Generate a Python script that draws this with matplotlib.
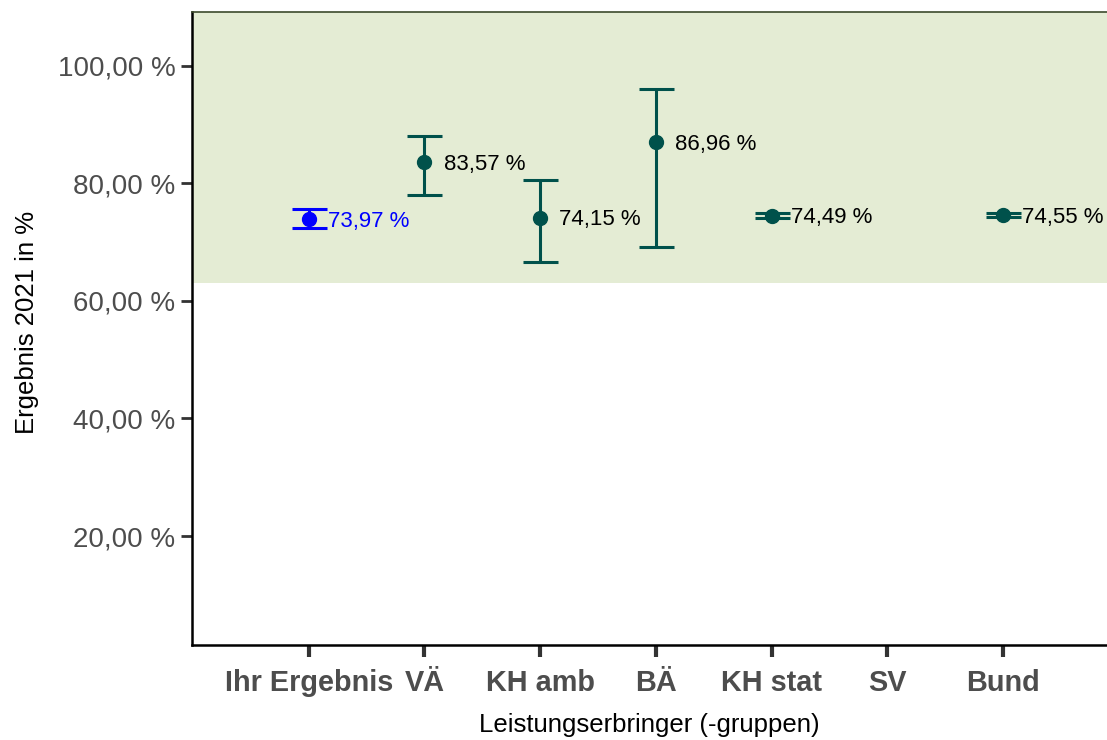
import numpy as np
import matplotlib
matplotlib.use('Agg')
from matplotlib import pyplot as plt

# Werte
categories = ['Ihr Ergebnis', 'VÄ', 'KH amb', 'BÄ', 'KH stat', 'SV', 'Bund']
values = [73.97, 83.57, 74.15, 86.96, 74.49, np.nan, 74.55]
lower = [72.35, 77.96, 66.67, 69.17, 74.03, np.nan, 74.20]
upper = [75.58, 88.04, 80.56, 95.99, 74.95, np.nan, 74.90]
band_low = 63.0
yticks = [20, 40, 60, 80, 100]

teal = '#00514B'
blue = '#0000FF'
band = '#E4ECD4'
grey = '#4D4D4D'

plt.rcParams['font.family'] = ['Liberation Sans', 'DejaVu Sans']

fig = plt.figure(figsize=(11.07, 7.40), dpi=100)
ax = fig.add_axes([0.1734, 0.1284, 0.8266, 0.8554])

x = np.arange(len(categories))
ax.set_xlim(-1.01, 6.9)
ax.set_ylim(1.5, 109.1)

ax.axhspan(band_low, 120, color=band, lw=0, zorder=0)

for i, cat in enumerate(categories):
    if np.isnan(values[i]):
        continue
    col = blue if i == 0 else teal
    yerr = [[values[i] - lower[i]], [upper[i] - values[i]]]
    ax.errorbar(x[i], values[i], yerr=yerr, fmt='o', color=col, ecolor=col,
                markersize=10, elinewidth=2.2, capsize=12.6, capthick=2.2,
                zorder=3)
    label = f'{values[i]:.2f} %'.replace('.', ',')
    ax.text(x[i] + 0.165, values[i] - 0.4, label, fontsize=16,
            color=blue if i == 0 else 'black', ha='left', va='center',
            zorder=4)

ax.set_xticks(x)
ax.set_xticklabels(categories, fontsize=20.8, fontweight='bold', color=grey)
ax.set_yticks(yticks)
ax.set_yticklabels([f'{v:.2f} %'.replace('.', ',') for v in yticks],
                   fontsize=20, color=grey)
ax.tick_params(axis='x', length=8.6, width=3, color='#333333', pad=9)
ax.tick_params(axis='y', length=8, width=2, color='#333333', pad=4)

ax.spines['right'].set_visible(False)
ax.spines['top'].set_color('#3C4A2C')
ax.spines['top'].set_linewidth(1.2)
ax.spines['left'].set_linewidth(1.8)
ax.spines['bottom'].set_linewidth(1.8)

ax.set_xlabel('Leistungserbringer (-gruppen)', fontsize=18.5, labelpad=11)
ax.set_ylabel('Ergebnis 2021 in %', fontsize=18.5, labelpad=10)
ax.yaxis.set_label_coords(-0.167, 0.51)

plt.savefig('out.png', dpi=100)
